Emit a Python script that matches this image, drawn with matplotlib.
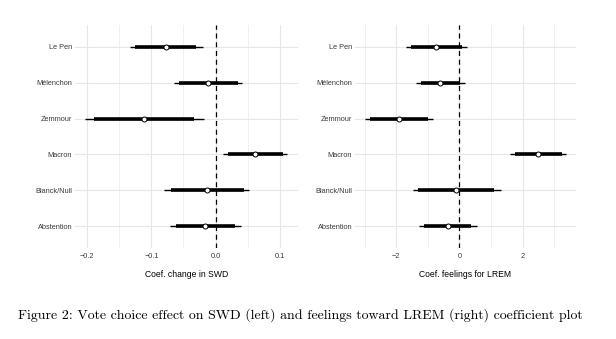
import matplotlib
matplotlib.use("Agg")
import matplotlib.pyplot as plt

# vote choice categories, top to bottom
parties = ["Le Pen", "Mélenchon", "Zemmour", "Macron", "Blanck/Null", "Abstention"]

# SWD model: estimate, 90% interval (thick), 95% interval (thin)
swd_est = [-0.077, -0.012, -0.111, 0.062, -0.014, -0.016]
swd_lo90 = [-0.125, -0.057, -0.189, 0.020, -0.070, -0.062]
swd_hi90 = [-0.030, 0.035, -0.033, 0.105, 0.044, 0.031]
swd_lo95 = [-0.134, -0.065, -0.203, 0.012, -0.080, -0.071]
swd_hi95 = [-0.020, 0.041, -0.018, 0.112, 0.052, 0.040]

# LREM feelings model
lrem_est = [-0.74, -0.60, -1.91, 2.48, -0.10, -0.36]
lrem_lo90 = [-1.54, -1.22, -2.82, 1.74, -1.30, -1.12]
lrem_hi90 = [0.07, 0.02, -1.00, 3.23, 1.10, 0.36]
lrem_lo95 = [-1.68, -1.37, -2.98, 1.60, -1.48, -1.27]
lrem_hi95 = [0.23, 0.17, -0.84, 3.36, 1.31, 0.55]

swd_ticks = [-0.2, -0.1, 0.0, 0.1]
swd_minor = [-0.15, -0.05, 0.05]
lrem_ticks = [-2, 0, 2]
lrem_minor = [-3, -1, 1, 3]

plt.rcParams["font.family"] = ["Liberation Sans", "DejaVu Sans"]

fig = plt.figure(figsize=(6.16, 3.39), dpi=100)
ax1 = fig.add_axes([0.1218, 0.2684, 0.3615, 0.6578])
ax2 = fig.add_axes([0.5763, 0.2684, 0.3588, 0.6578])


def coef_panel(ax, est, lo90, hi90, lo95, hi95, ticks, minor, ticklabels, xlabel, xlim):
    n = len(parties)
    ys = list(range(n - 1, -1, -1))
    for spine in ax.spines.values():
        spine.set_visible(False)
    ax.set_xlim(*xlim)
    ax.set_ylim(-0.6, n - 0.4)
    ax.set_xticks(ticks)
    ax.set_xticklabels(ticklabels)
    ax.set_xticks(minor, minor=True)
    ax.set_yticks(ys)
    ax.set_yticklabels(parties)
    ax.tick_params(which="both", length=0)
    ax.tick_params(axis="x", labelsize=5.3, labelcolor="#3A3A3A", pad=3.5)
    ax.tick_params(axis="y", labelsize=5.3, labelcolor="#3A3A3A", pad=2)
    ax.grid(True, which="major", color="#E6E6E6", linewidth=0.8)
    ax.grid(True, which="minor", axis="x", color="#EEEEEE", linewidth=0.6)
    ax.set_axisbelow(True)
    ax.axvline(0, color="black", linestyle=(0, (4, 3)), linewidth=0.9, zorder=2)
    ax.hlines(ys, lo95, hi95, color="black", linewidth=1.0, zorder=3)
    ax.hlines(ys, lo90, hi90, color="black", linewidth=2.6, zorder=3)
    ax.plot(est, ys, "o", markersize=3.6, markerfacecolor="white",
            markeredgecolor="black", markeredgewidth=0.7, zorder=4)
    ax.set_xlabel(xlabel, fontsize=6.2, labelpad=7)


coef_panel(ax1, swd_est, swd_lo90, swd_hi90, swd_lo95, swd_hi95,
           swd_ticks, swd_minor, ["\u22120.2", "\u22120.1", "0.0", "0.1"],
           "Coef. change in SWD", (-0.219, 0.128))
coef_panel(ax2, lrem_est, lrem_lo90, lrem_hi90, lrem_lo95, lrem_hi95,
           lrem_ticks, lrem_minor, ["\u22122", "0", "2"],
           "Coef. feelings for LREM", (-3.30, 3.68))

fig.text(300 / 616, 1 - 315 / 339,
         "Figure 2: Vote choice effect on SWD (left) and feelings toward LREM (right) coefficient plot",
         family=["cmr10", "DejaVu Serif"], fontsize=10.0, ha="center", va="center")

fig.savefig("out.png", dpi=100)
